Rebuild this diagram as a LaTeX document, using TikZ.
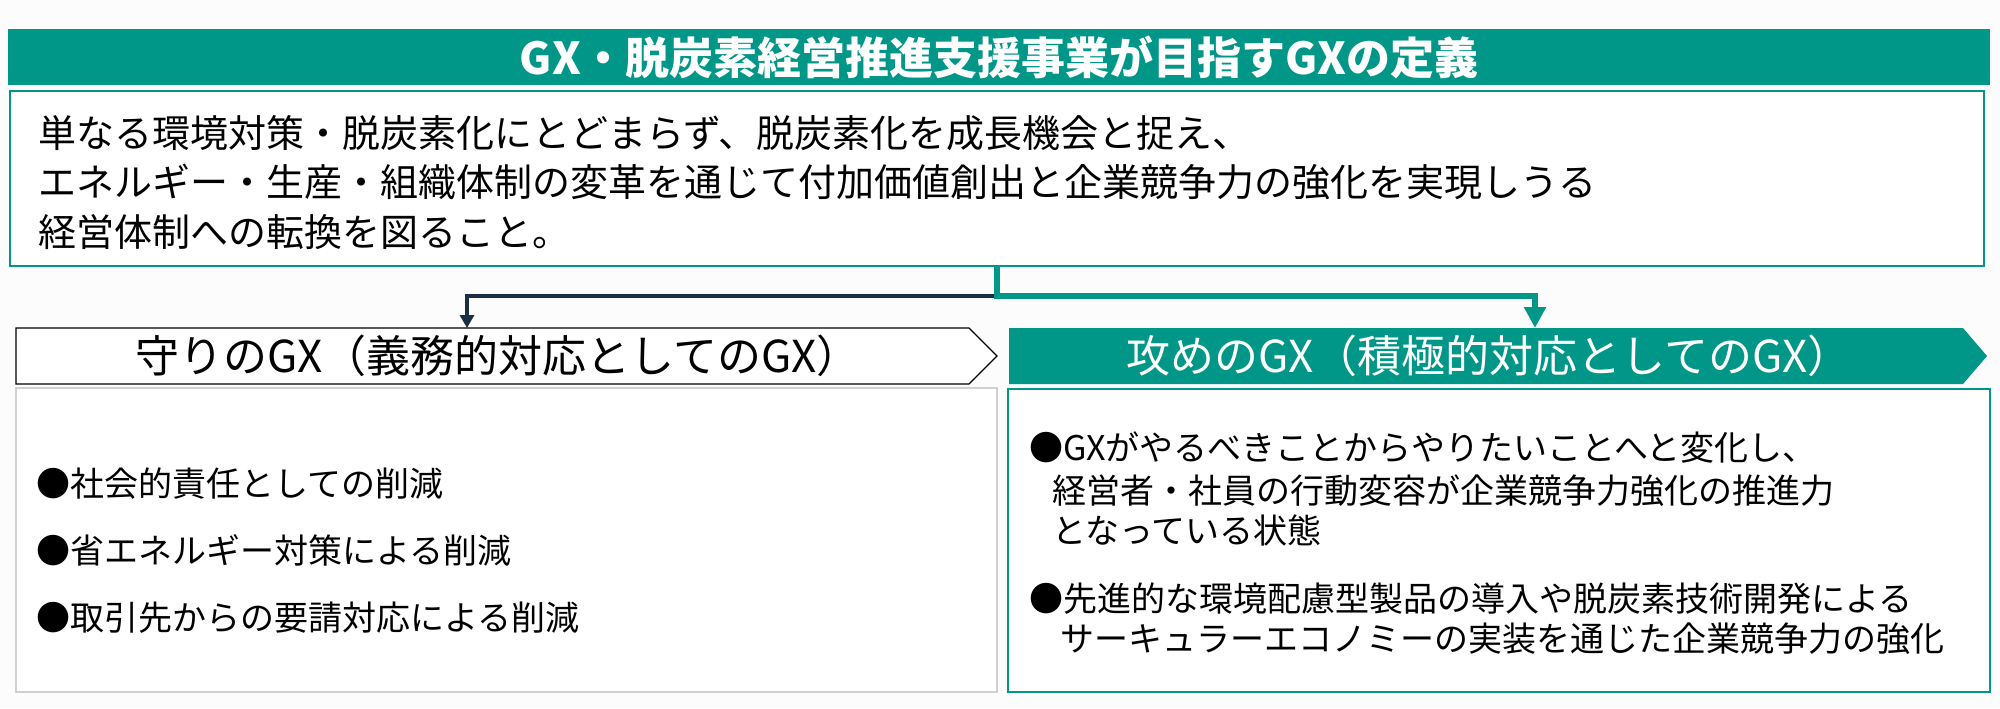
\documentclass[tikz,border=0pt]{standalone}
\usepackage{fontspec}
\setmainfont{Noto Sans CJK JP}
\usetikzlibrary{arrows.meta,calc}
\definecolor{gxteal}{RGB}{0,150,136}
\definecolor{gxnavy}{RGB}{26,46,68}
\definecolor{gxgray}{RGB}{208,208,208}
\definecolor{gxbg}{RGB}{252,252,252}
\begin{document}
\begin{tikzpicture}[x=0.5pt,y=-0.5pt,
  titlebar/.style={rectangle, fill=gxteal, inner sep=0pt, outer sep=0pt,
    minimum width=991pt, minimum height=28pt, text=white,
    font=\fontsize{22pt}{22pt}\selectfont\bfseries},
  defbox/.style={rectangle, draw=gxteal, line width=1pt, fill=white, inner sep=0pt,
    minimum width=987pt, minimum height=87.5pt},
  hdrtext/.style={rectangle, inner sep=0pt, outer sep=0pt, minimum height=28pt,
    font=\fontsize{22pt}{22pt}\selectfont},
  lbody/.style={rectangle, draw=gxgray, line width=0.75pt, fill=white, inner sep=0pt,
    minimum width=490.5pt, minimum height=152pt},
  rbody/.style={rectangle, draw=gxteal, line width=1pt, fill=white, inner sep=0pt,
    minimum width=491pt, minimum height=151.5pt},
  deftext/.style={inner sep=0pt, outer sep=0pt, anchor=base west, text=black,
    font=\fontsize{19pt}{19pt}\selectfont},
  bodytext/.style={inner sep=0pt, outer sep=0pt, anchor=base west, text=black,
    font=\fontsize{17pt}{17pt}\selectfont},
  tealline/.style={draw=gxteal, line width=3pt, line join=miter},
  navyline/.style={draw=gxnavy, line width=2.2pt, line join=miter},
]
\fill[gxbg] (0,0) rectangle (2000,708);
\useasboundingbox (0,0) rectangle (2000,708);

% title
\node[titlebar] (title) at (999,57) {GX・脱炭素経営推進支援事業が目指すGXの定義};

% definition box
\node[defbox] (def) at (997,178.5) {};
\node[deftext] (d1) at (38,147) {単なる環境対策・脱炭素化にとどまらず、脱炭素化を成長機会と捉え、};
\node[deftext] (d2) at (38,196) {エネルギー・生産・組織体制の変革を通じて付加価値創出と企業競争力の強化を実現しうる};
\node[deftext] (d3) at (38,246) {経営体制への転換を図ること。};

% header shapes
\draw[black, line width=0.6pt, fill=white] (16,328) -- (969,328) -- (997,356) -- (969,384) -- (16,384) -- cycle;
\fill[gxteal] (1009,328) -- (1963,328) -- (1987,356) -- (1963,384) -- (1009,384) -- cycle;
\node[hdrtext, text=black, minimum width=482pt] (mamori) at (498,356) {守りのGX（義務的対応としてのGX）};
\node[hdrtext, text=white, minimum width=480pt] (seme) at (1489,356) {攻めのGX（積極的対応としてのGX）};

% connectors
\coordinate (j) at (997,296);
\coordinate (jl) at (467,296);
\coordinate (jr) at (1535,296);
\draw[navyline, -{Triangle[width=7pt,length=6.5pt]}] (j) -- (jl) -- (jl |- mamori.north);
\draw[tealline, -{Triangle[width=10.5pt,length=10.5pt]}] (def.south -| j) -- (j) -- (jr) -- (jr |- seme.north);

% body boxes
\node[lbody] (lb) at (506.5,540) {};
\node[rbody] (rb) at (1499,540.5) {};

\node[bodytext] (l1) at (36,496) {●社会的責任としての削減};
\node[bodytext] (l2) at (36,563) {●省エネルギー対策による削減};
\node[bodytext] (l3) at (36,630) {●取引先からの要請対応による削減};

\node[bodytext] (r1) at (1029,460) {●GXがやるべきことからやりたいことへと変化し、};
\node[bodytext] (r2) at (1052,503) {経営者・社員の行動変容が企業競争力強化の推進力};
\node[bodytext] (r3) at (1052,543) {となっている状態};
\node[bodytext] (r4) at (1029,611) {●先進的な環境配慮型製品の導入や脱炭素技術開発による};
\node[bodytext] (r5) at (1060,651) {サーキュラーエコノミーの実装を通じた企業競争力の強化};
\end{tikzpicture}
\end{document}
